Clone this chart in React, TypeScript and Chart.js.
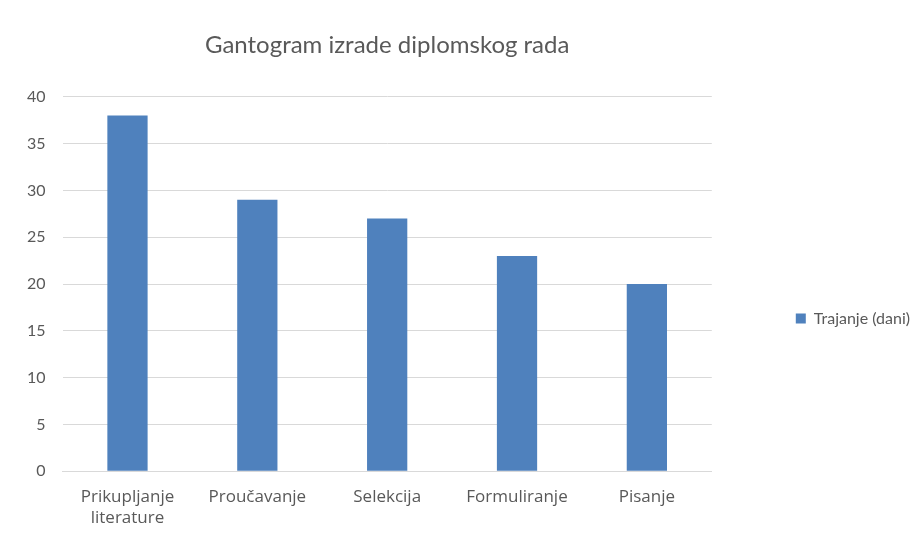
import React, { useEffect, useRef } from "react";
import { Chart, registerables } from "chart.js";

Chart.register(...registerables);

const categories: (string | string[])[] = [
  ["Prikupljanje", "literature"],
  "Proučavanje",
  "Selekcija",
  "Formuliranje",
  "Pisanje",
];
const durations: number[] = [38, 29, 27, 23, 20];
const seriesLabel = "Trajanje (dani)";
const titleText = "Gantogram izrade diplomskog rada";

const FONT = "Lato, 'Open Sans', sans-serif";
const XFONT = "'Open Sans', Lato, sans-serif";
const TEXT = "#595959";

export default function App() {
  const ref = useRef<HTMLCanvasElement | null>(null);
  useEffect(() => {
    if (!ref.current) return;
    const chart = new Chart(ref.current, {
      type: "bar",
      data: {
        labels: categories,
        datasets: [
          {
            label: seriesLabel,
            data: durations,
            backgroundColor: "#4f81bd",
            barPercentage: 0.31,
            categoryPercentage: 1,
          },
        ],
      },
      options: {
        animation: false,
        responsive: false,
        layout: { padding: { left: 10, top: 16, bottom: 6, right: -8 } },
        plugins: {
          title: {
            display: true,
            text: titleText,
            fullSize: false,
            color: TEXT,
            font: { family: FONT, size: 24, weight: "normal" },
            padding: { top: 15, bottom: 37 },
          },
          legend: {
            position: "right",
            title: {
              display: true,
              text: " ",
              font: { size: 1 },
              padding: { top: 84, bottom: 0 },
            },
            labels: {
              color: TEXT,
              font: { family: FONT, size: 16 },
              boxWidth: 10,
              boxHeight: 10,
              padding: 84,
            },
          },
          tooltip: { enabled: false },
        },
        scales: {
          x: {
            grid: { display: false },
            border: { color: "#d9d9d9" },
            ticks: {
              color: TEXT,
              padding: 8,
              font: { family: XFONT, size: 17 },
              maxRotation: 0,
              autoSkip: false,
            },
          },
          y: {
            min: 0,
            max: 40,
            ticks: {
              stepSize: 5,
              color: TEXT,
              padding: 17,
              font: { family: FONT, size: 16 },
            },
            grid: { color: "#d9d9d9", drawTicks: false },
            border: { display: false },
          },
        },
      },
    });
    return () => chart.destroy();
  }, []);
  return (
    <div style={{ position: "absolute", left: 0, top: 0, width: 912, height: 542, background: "#fff" }}>
      <canvas ref={ref} width={912} height={542} />
    </div>
  );
}
